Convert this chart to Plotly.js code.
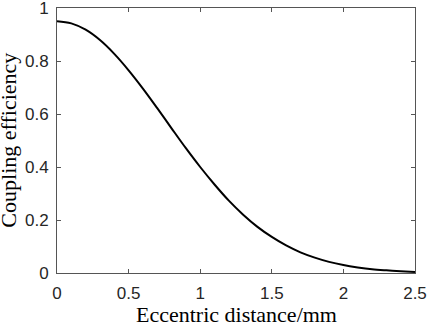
<!DOCTYPE html>
<html>
<head>
<meta charset="utf-8">
<script src="https://cdn.plot.ly/plotly-3.0.1.min.js"></script>
<style>
  html, body { margin: 0; padding: 0; background: #fff; }
  #chart { width: 429px; height: 326px; }
</style>
</head>
<body>
<div id="chart"></div>
<script>
// values
const distance = [0, 0.1, 0.2, 0.3, 0.4, 0.5, 0.6, 0.7, 0.8, 0.9, 1.0, 1.1, 1.2,
  1.3, 1.4, 1.5, 1.6, 1.7, 1.8, 1.9, 2.0, 2.1, 2.2, 2.3, 2.4, 2.5];
const efficiency = [0.950, 0.942, 0.918, 0.879, 0.827, 0.765, 0.696, 0.622, 0.546,
  0.471, 0.400, 0.334, 0.273, 0.220, 0.174, 0.136, 0.104, 0.078, 0.058, 0.042,
  0.030, 0.021, 0.014, 0.010, 0.007, 0.004];

const xTicks = [0, 0.5, 1, 1.5, 2, 2.5];
const xTickText = ['0', '0.5', '1', '1.5', '2', '2.5'];
const yTicks = [0, 0.2, 0.4, 0.6, 0.8, 1];
const yTickText = ['0', '0.2', '0.4', '0.6', '0.8', '1'];

const axisCommon = {
  showline: true,
  linecolor: '#555',
  linewidth: 1,
  mirror: 'ticks',
  ticks: 'inside',
  ticklen: 4,
  tickcolor: '#555',
  showgrid: false,
  zeroline: false,
  ticklabeloverflow: 'allow',
  tickfont: { family: 'Liberation Sans, Arial, sans-serif', size: 17, color: '#262626' }
};

const titleFont = { family: 'Liberation Serif, Times New Roman, serif', size: 22, color: '#000' };

const trace = {
  x: distance,
  y: efficiency,
  mode: 'lines',
  line: { color: '#000', width: 2, shape: 'spline' },
  hoverinfo: 'skip'
};

// axis titles sit as paper annotations so they can go lower / further left than the title clamp allows
const layout = {
  width: 429,
  height: 326,
  margin: { t: 8, r: 14, b: 53, l: 57 },
  paper_bgcolor: '#fff',
  plot_bgcolor: '#fff',
  showlegend: false,
  xaxis: {
    ...axisCommon,
    range: [0, 2.5],
    tickvals: xTicks,
    ticktext: xTickText,
    ticklabelstandoff: 5
  },
  yaxis: {
    ...axisCommon,
    range: [0, 1],
    tickvals: yTicks,
    ticktext: yTickText,
    ticklabelstandoff: 4
  },
  annotations: [
    {
      text: 'Eccentric distance/mm',
      xref: 'paper', yref: 'paper',
      x: 0.5, y: -0.103,
      xanchor: 'center', yanchor: 'top',
      showarrow: false,
      font: titleFont
    },
    {
      text: 'Coupling efficiency',
      xref: 'paper', yref: 'paper',
      x: -0.096, y: 0.5,
      xanchor: 'right', yanchor: 'middle',
      textangle: -90,
      showarrow: false,
      font: titleFont
    }
  ]
};

Plotly.newPlot('chart', [trace], layout, { staticPlot: true, displayModeBar: false });
</script>
</body>
</html>
